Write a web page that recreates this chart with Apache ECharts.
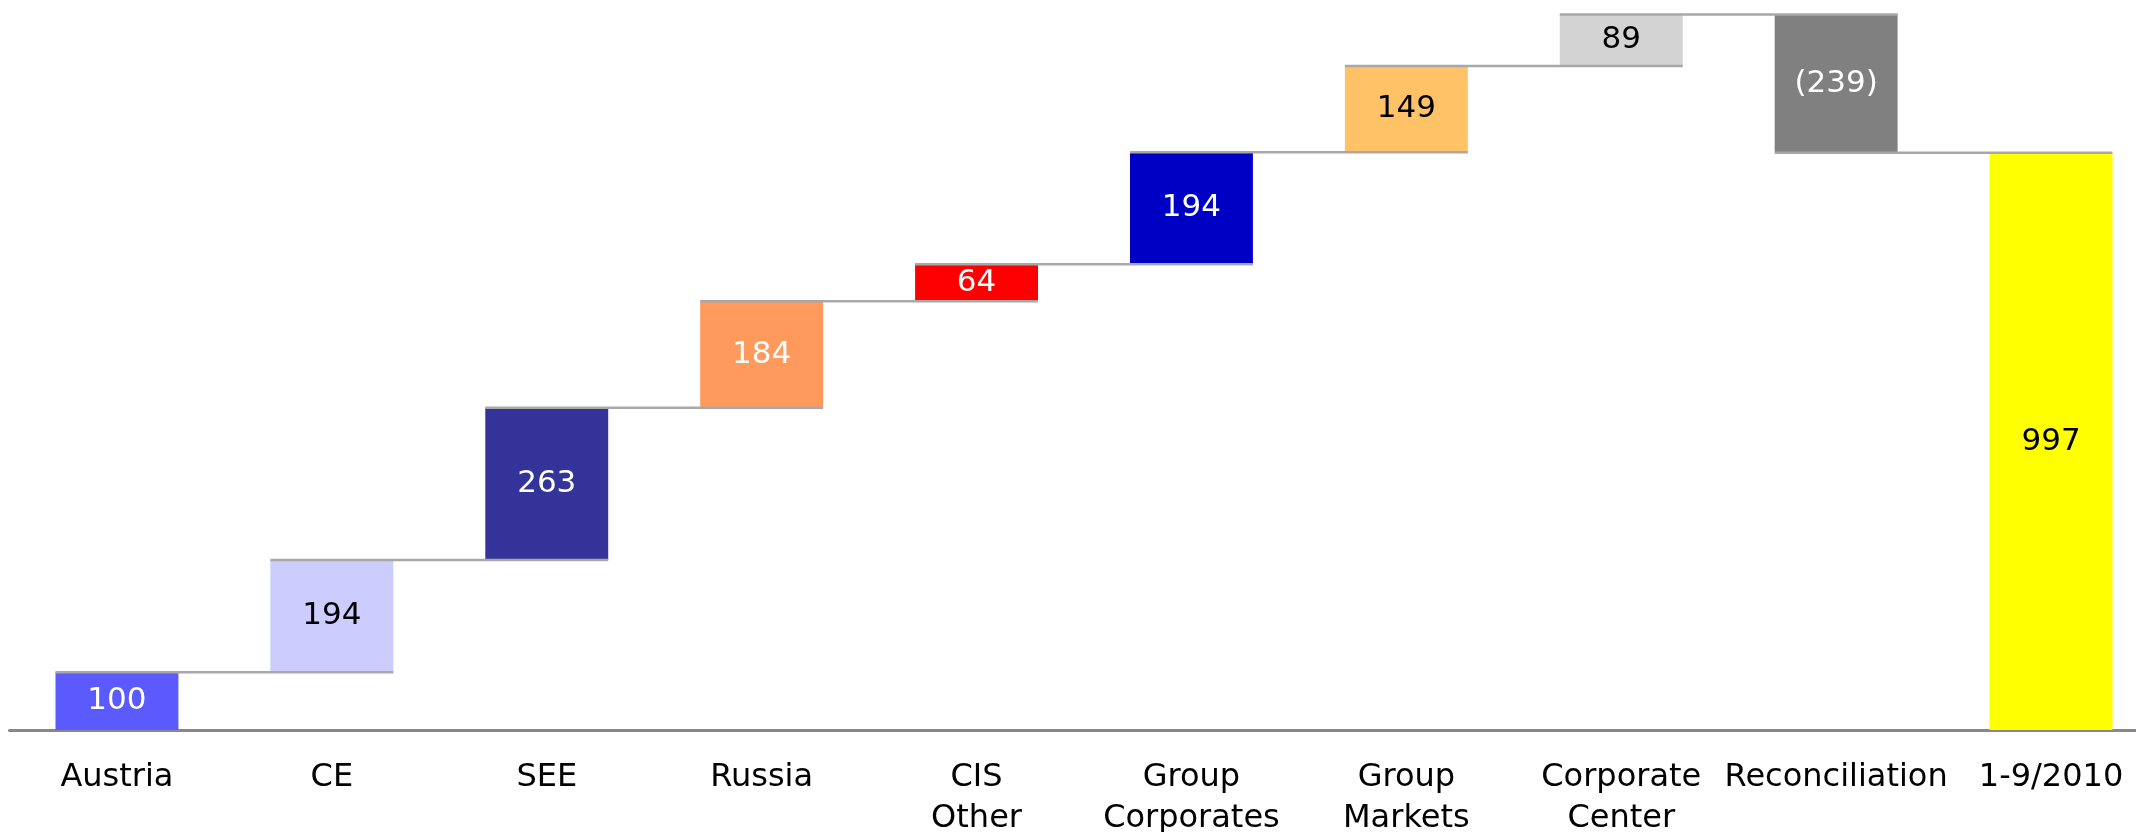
<!DOCTYPE html>
<html>
<head>
<meta charset="utf-8">
<script src="https://cdn.jsdelivr.net/npm/echarts@6/dist/echarts.min.js"></script>
<style>
html,body{margin:0;padding:0;background:#fff;overflow:hidden;}
#chart{width:2136px;height:832px;}
</style>
</head>
<body>
<div id="chart"></div>
<script>
const categories = ['Austria','CE','SEE','Russia','CIS\nOther','Group\nCorporates','Group\nMarkets','Corporate\nCenter','Reconciliation','1-9/2010'];
const values = [100,194,263,184,64,194,149,89,-239,997];
const isTotal = [false,false,false,false,false,false,false,false,false,true];
const valueLabels = ['100','194','263','184','64','194','149','89','(239)','997'];
const barColors = ['#5A5AFF','#CCCCFF','#333399','#FF9A5C','#FF0000','#0000C4','#FFC266','#D3D3D3','#808080','#FFFF00'];
const labelColors = ['#fff','#000','#fff','#fff','#fff','#fff','#000','#000','#fff','#000'];

// derive stacked bases and connector levels from values
const bases = [];
const levels = [];
let cum = 0;
values.forEach((v, i) => {
  if (isTotal[i]) { bases.push(0); cum = v; }
  else if (v >= 0) { bases.push(cum); cum += v; }
  else { cum += v; bases.push(cum); }
  levels.push(cum);
});
const connectorData = [];
for (let i = 0; i < values.length - 1; i++) connectorData.push([i, levels[i]]);

const BAR_RATIO = 0.572;
const FONT = '"DejaVu Sans", sans-serif';

const chart = echarts.init(document.getElementById('chart'), null, {renderer: 'canvas'});
chart.setOption({
  animation: false,
  backgroundColor: '#fff',
  grid: {left: 9.5, top: 0, bottom: 102, width: 2149, containLabel: false, outerBoundsMode: 'none'},
  xAxis: {
    type: 'category',
    data: categories,
    axisLine: {show: true, lineStyle: {color: '#888', width: 3}},
    axisTick: {show: false},
    axisLabel: {interval: 0, color: '#000', fontFamily: FONT, fontSize: 32, lineHeight: 41, margin: 27, hideOverlap: false}
  },
  yAxis: {type: 'value', min: 0, max: 1262, show: false, splitLine: {show: false}},
  series: [
    {
      type: 'bar', stack: 'w', barWidth: (BAR_RATIO*100)+'%',
      data: bases,
      itemStyle: {color: 'transparent'},
      silent: true
    },
    {
      type: 'bar', stack: 'w', barWidth: (BAR_RATIO*100)+'%',
      data: values.map((v, i) => ({
        value: Math.abs(v),
        itemStyle: {color: barColors[i]},
        label: {color: labelColors[i]}
      })),
      label: {
        show: true, position: 'inside', fontFamily: FONT, fontSize: 31,
        formatter: p => valueLabels[p.dataIndex]
      }
    },
    {
      type: 'custom',
      data: connectorData,
      z: 5,
      renderItem: function (params, api) {
        const i = api.value(0), lv = api.value(1);
        const p1 = api.coord([i, lv]);
        const p2 = api.coord([i + 1, lv]);
        const half = api.size([1, 0])[0] * BAR_RATIO / 2;
        return {
          type: 'line',
          shape: {x1: p1[0] - half, y1: p1[1], x2: p2[0] + half, y2: p2[1]},
          style: {stroke: '#A8A8A8', lineWidth: 2.5}
        };
      }
    }
  ]
});
</script>
</body>
</html>
